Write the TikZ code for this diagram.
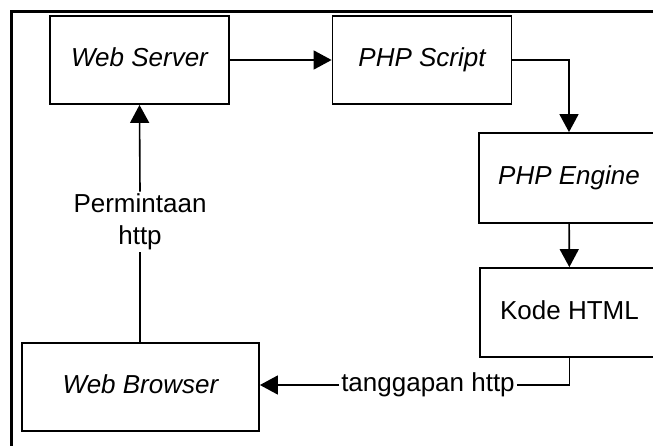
\documentclass[tikz,border=0pt]{standalone}
\usepackage{fontspec}
\setmainfont{Liberation Sans}
\usetikzlibrary{arrows.meta}
\tikzset{
  box/.style={draw, line width=1.8pt, minimum width=179pt, minimum height=88pt,
    inner sep=0pt, text height=18.5pt, text depth=5.5pt,
    font=\fontsize{26}{32}\selectfont},
  lbl/.style={inner sep=2pt, align=center, font=\fontsize{26}{32}\selectfont},
  conn/.style={line width=1.6pt, -{Triangle[length=18pt,width=19pt]}}
}

\begin{document}
\begin{tikzpicture}[x=1pt,y=-1pt]
\useasboundingbox (0,0) rectangle (653,445);
\clip (0,0) rectangle (653,445);
\draw[line width=3pt] (11,480)--(11,11)--(700,11);
\node (ws) at (139.5,60) [box]{\itshape Web Server};
\node (php) at (422,60) [box]{\itshape PHP Script};
\node (eng) at (569,178) [box,minimum width=180pt,minimum height=90pt]{\itshape PHP Engine};
\node (html) at (569.5,312.5) [box,minimum height=89pt]{Kode HTML};
\node (wb) at (140.5,387) [box,minimum width=237pt]{\itshape Web Browser};
\node (req) at (140,222) [lbl]{Permintaan\\http};
\node (tg) at (428,385) [lbl]{tanggapan http};
\draw[conn] (ws)--(php);
\draw[conn] (php.east)-|(eng.north);
\draw[conn] (eng)--(html);
\draw[line width=1.6pt] (html.south)|-(tg.east);
\draw[conn] (tg.west)--(wb.east|-tg.west);
\draw[line width=1.6pt] (wb.north-|req)--(req.south);
\draw[conn] (req.north)--(ws.south);
\end{tikzpicture}
\end{document}
